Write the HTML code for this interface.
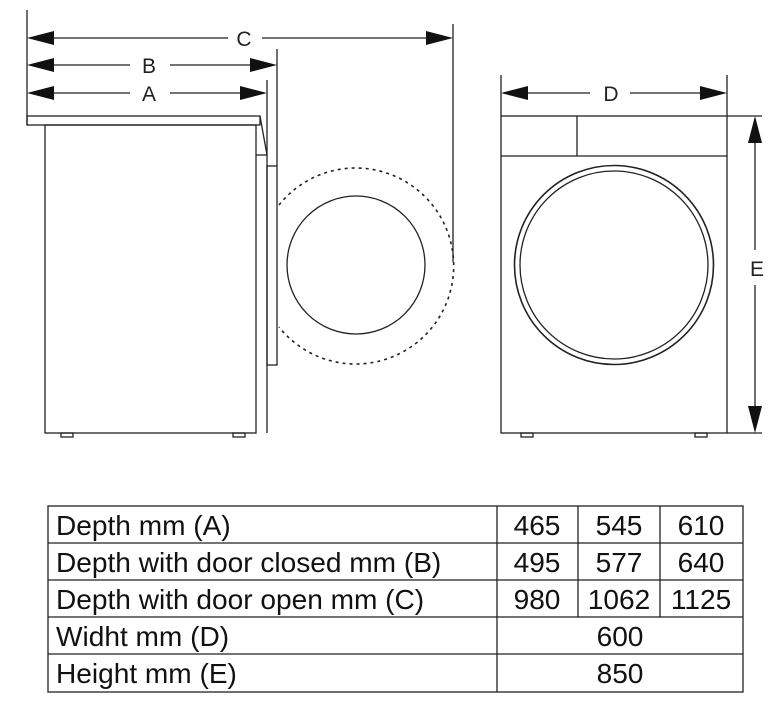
<!DOCTYPE html>
<html><head><meta charset="utf-8"><style>
html,body{margin:0;padding:0;background:#fff;}
svg{display:block;}
</style></head><body>
<svg width="781" height="701" viewBox="0 0 781 701" xmlns="http://www.w3.org/2000/svg" font-family="Liberation Sans, sans-serif">
<g stroke="#222" fill="none" stroke-width="1.3">
  <line x1="27" y1="10" x2="27" y2="125"/>
  <line x1="453" y1="24" x2="453" y2="262"/>
  <line x1="277" y1="49" x2="277" y2="166"/>
  <line x1="267" y1="80" x2="267" y2="155"/>
  <line x1="50" y1="38" x2="228" y2="38"/>
  <line x1="262" y1="38" x2="430" y2="38"/>
  <line x1="50" y1="65" x2="130" y2="65"/>
  <line x1="170" y1="65" x2="255" y2="65"/>
  <line x1="50" y1="93" x2="130" y2="93"/>
  <line x1="170" y1="93" x2="245" y2="93"/>
  <rect x="27" y="116" width="233" height="9"/>
  <polyline points="260,116 267,155 267,433"/>
  <rect x="45" y="125" width="211" height="308"/>
  <line x1="256" y1="155" x2="267" y2="155"/>
  <rect x="267" y="166" width="10" height="199"/>
  <rect x="61" y="433" width="12" height="4"/>
  <rect x="233" y="433" width="12" height="4"/>
  <path d="M279,205 A98,98 0 1 1 279,327" stroke-dasharray="3,4" stroke-width="1.6"/>
  <circle cx="356" cy="265" r="69"/>
  <line x1="501" y1="75" x2="501" y2="116"/>
  <line x1="727" y1="75" x2="727" y2="116"/>
  <line x1="525" y1="93" x2="590" y2="93"/>
  <line x1="630" y1="93" x2="705" y2="93"/>
  <rect x="501" y="116" width="226" height="317"/>
  <line x1="501" y1="156" x2="727" y2="156"/>
  <line x1="577" y1="116" x2="577" y2="156"/>
  <circle cx="614" cy="265" r="99.5" stroke-width="1.6"/>
  <circle cx="614" cy="265" r="94"/>
  <rect x="521" y="433" width="12" height="4"/>
  <rect x="695" y="433" width="12" height="4"/>
  <line x1="727" y1="116" x2="762" y2="116"/>
  <line x1="727" y1="433" x2="762" y2="433"/>
  <line x1="755" y1="140" x2="755" y2="250"/>
  <line x1="755" y1="285" x2="755" y2="410"/>
</g>
<g fill="#111">
  <polygon points="27,38 54,31 54,45"/>
  <polygon points="453,38 426,31 426,45"/>
  <polygon points="27,65 54,58 54,72"/>
  <polygon points="277,65 250,58 250,72"/>
  <polygon points="27,93 54,86 54,100"/>
  <polygon points="267,93 240,86 240,100"/>
  <polygon points="501,93 528,86 528,100"/>
  <polygon points="727,93 700,86 700,100"/>
  <polygon points="755,116 748,143 762,143"/>
  <polygon points="755,433 748,406 762,406"/>
</g>
<g font-size="21" fill="#222" text-anchor="middle">
  <text x="244" y="46">C</text>
  <text x="149" y="73">B</text>
  <text x="149" y="101">A</text>
  <text x="611" y="101">D</text>
  <text x="757" y="276">E</text>
</g>
<g stroke="#222" stroke-width="1.3" fill="none">
  <rect x="48" y="506" width="695" height="186"/>
  <line x1="48" y1="543" x2="743" y2="543"/>
  <line x1="48" y1="580" x2="743" y2="580"/>
  <line x1="48" y1="617" x2="743" y2="617"/>
  <line x1="48" y1="654" x2="743" y2="654"/>
  <line x1="497" y1="506" x2="497" y2="692"/>
  <line x1="578" y1="506" x2="578" y2="617"/>
  <line x1="660" y1="506" x2="660" y2="617"/>
</g>
<g font-size="24" fill="#111">
  <text transform="translate(56 535) scale(1.17 1.15)">Depth mm (A)</text>
  <text transform="translate(56 572) scale(1.17 1.15)">Depth with door closed mm (B)</text>
  <text transform="translate(56 609) scale(1.17 1.15)">Depth with door open mm (C)</text>
  <text transform="translate(56 646) scale(1.17 1.15)">Widht mm (D)</text>
  <text transform="translate(56 683) scale(1.17 1.15)">Height mm (E)</text>
</g>
<g font-size="24" fill="#111" text-anchor="middle">
  <text transform="translate(537 535) scale(1.17 1.15)">465</text>
  <text transform="translate(619 535) scale(1.17 1.15)">545</text>
  <text transform="translate(701 535) scale(1.17 1.15)">610</text>
  <text transform="translate(537 572) scale(1.17 1.15)">495</text>
  <text transform="translate(619 572) scale(1.17 1.15)">577</text>
  <text transform="translate(701 572) scale(1.17 1.15)">640</text>
  <text transform="translate(537 609) scale(1.17 1.15)">980</text>
  <text transform="translate(619 609) scale(1.17 1.15)">1062</text>
  <text transform="translate(701 609) scale(1.17 1.15)">1125</text>
  <text transform="translate(620 646) scale(1.17 1.15)">600</text>
  <text transform="translate(620 683) scale(1.17 1.15)">850</text>
</g>
</svg>
</body></html>
